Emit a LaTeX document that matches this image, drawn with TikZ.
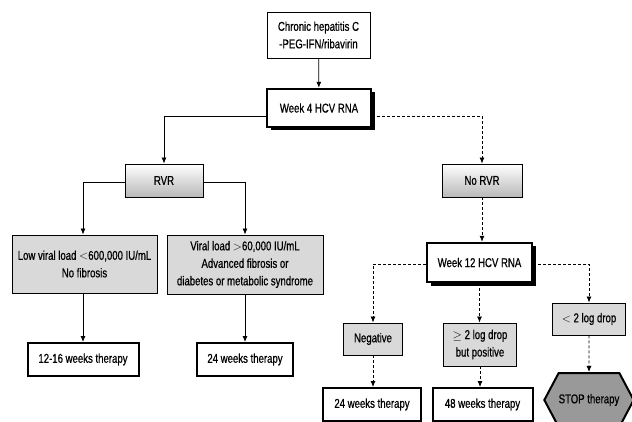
\documentclass[tikz,border=0pt]{standalone}
\usepackage{fontspec}
\setmainfont{Liberation Sans}[FakeStretch=0.75, FakeBold=0.7]
\usetikzlibrary{arrows.meta, shapes.symbols, shadows}

\definecolor{boxgray}{gray}{0.85}
\definecolor{stopgray}{gray}{0.6}

\tikzset{
  box/.style = {draw, line width=0.9pt, inner sep=0pt, align=center,
    font=\fontsize{12.8}{17.5}\selectfont},
  graybox/.style = {box, fill=boxgray},
  thickbox/.style = {box, fill=white, line width=2pt},
  weekbox/.style = {box, fill=white, line width=2.4pt,
    drop shadow={opacity=1, fill=black, shadow xshift=3.5pt, shadow yshift=-3.5pt}},
  rvrbox/.style = {box, top color=white, bottom color=gray!55},
  stopbox/.style = {box, shape=signal, signal to=west and east,
    signal pointer angle=124, fill=stopgray, line width=2pt},
  line/.style = {line width=0.8pt, -{Latex[length=6pt,width=5pt]}},
  dline/.style = {line, dash pattern=on 3pt off 2pt}
}

\begin{document}
\begin{tikzpicture}[x=1pt, y=-1pt]
    \useasboundingbox (0,0) rectangle (632,422);

    \node[box, minimum width=103pt, minimum height=46pt] (chronic) at (318.5,35)
        {Chronic hepatitis C\\-PEG-IFN/ribavirin};
    \node[weekbox, minimum width=104pt, minimum height=38pt] (week4) at (319,108) {Week 4 HCV RNA};

    \node[rvrbox, minimum width=78pt, minimum height=33pt] (rvr) at (164,180.5) {RVR};
    \node[rvrbox, minimum width=80pt, minimum height=33pt] (norvr) at (482,180.5) {No RVR};

    \node[graybox, minimum width=145pt, minimum height=58pt] (low) at (84.5,264)
        {Low viral load $<$600,000 IU/mL\\No fibrosis};
    \node[graybox, minimum width=156pt, minimum height=59pt] (viral) at (245,264.5)
        {Viral load $>$60,000 IU/mL\\Advanced fibrosis or\\diabetes or metabolic syndrome};

    \node[thickbox, minimum width=111pt, minimum height=33pt] (w1216) at (83,359.5) {12-16 weeks therapy};
    \node[thickbox, minimum width=96pt, minimum height=33pt] (w24a) at (245,359.5) {24 weeks therapy};

    \node[weekbox, minimum width=105pt, minimum height=39pt] (week12) at (479.5,262.5) {Week 12 HCV RNA};

    \node[graybox, minimum width=59pt, minimum height=32pt] (neg) at (373,339) {Negative};
    \node[graybox, minimum width=73pt, minimum height=43pt] (ge2) at (480,344.5)
        {$\geq$ 2 log drop\\but positive};
    \node[graybox, minimum width=73pt, minimum height=32pt] (lt2) at (589,319) {$<$ 2 log drop};

    \node[thickbox, minimum width=98pt, minimum height=33pt] (w24b) at (372,404.5) {24 weeks therapy};
    \node[thickbox, minimum width=100pt, minimum height=33pt] (w48) at (482.5,404.5) {48 weeks therapy};
    \node[stopbox, minimum width=82pt, minimum height=54pt] (stop) at (589,400) {STOP therapy};

    % week 4
    \draw[line] (chronic) -- (week4);
    \draw[line] ([yshift=-8pt]week4.west) -| (rvr.north);
    \draw[dline] ([yshift=-8pt]week4.east) -| (norvr.north);

    % RVR branch
    \draw[line] ([yshift=-1.5pt]rvr.west) -| (low.north -| w1216.north);
    \draw[line] ([yshift=-1.5pt]rvr.east) -| (viral.north);
    \draw[line] (low.south -| w1216.north) -- (w1216.north);
    \draw[line] (viral.south) -- (viral.south |- w24a.north);

    % no RVR branch
    \draw[dline] (norvr) -- (norvr |- week12.north);
    \draw[dline] ([yshift=-1.5pt]week12.west) -| (neg.north);
    \draw[dline] (week12.south) -- (week12.south |- ge2.north);
    \draw[dline] ([yshift=-1.5pt]week12.east) -| (lt2.north);
    \draw[dline] (neg) -- (neg |- w24b.north);
    \draw[dline] (ge2.south) -- (ge2.south |- w48.north);
    \draw[dline] (lt2) -- (stop);
\end{tikzpicture}
\end{document}
